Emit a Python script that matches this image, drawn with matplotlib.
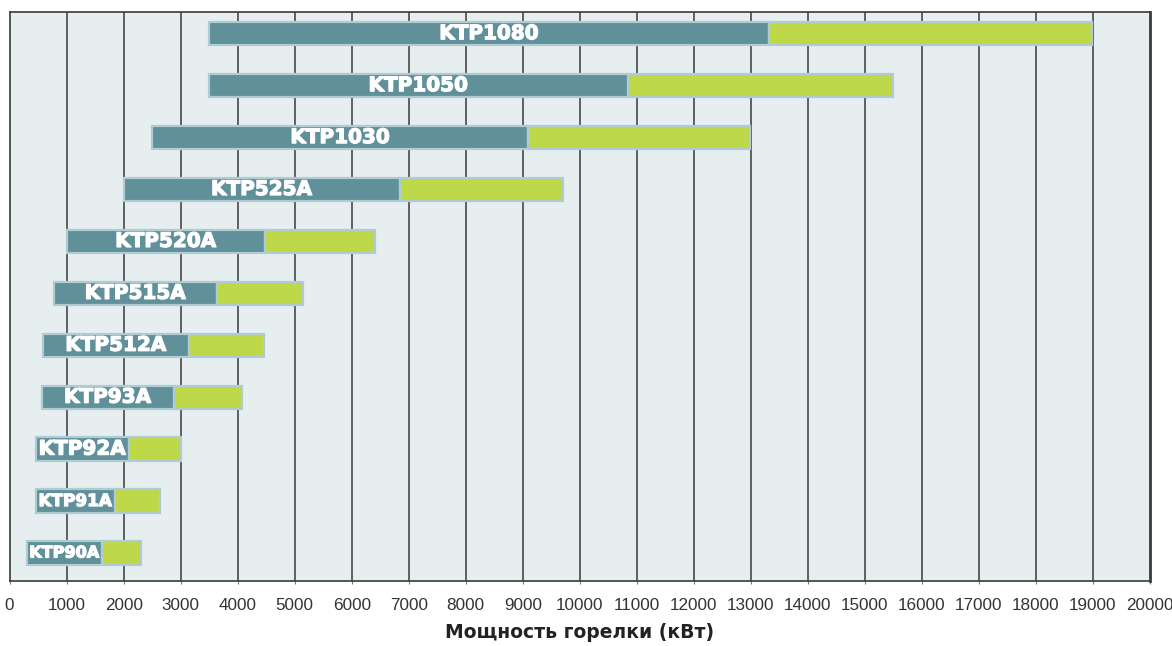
import matplotlib
matplotlib.use("Agg")
import matplotlib.pyplot as plt
import matplotlib.patheffects as pe
import numpy as np

models = ["KTP90A", "KTP91A", "KTP92A", "KTP93A", "KTP512A", "KTP515A",
          "KTP520A", "KTP525A", "KTP1030", "KTP1050", "KTP1080"]
p_min = [300, 460, 460, 560, 590, 770, 1000, 2000, 2500, 3500, 3500]
p_mid = [1620, 1840, 2090, 2880, 3140, 3640, 4480, 6840, 9100, 10840, 13320]
p_max = [2300, 2640, 3010, 4080, 4470, 5150, 6400, 9700, 12980, 15500, 18980]
xticks = list(range(0, 20001, 1000))
xlabel = "Мощность горелки (кВт)"

TEAL = "#60909a"
GREEN = "#bfd849"
EDGE = "#b0ccd3"
BG = "#e6eef0"
GRID = "#3a3a3a"

fig = plt.figure(figsize=(11.72, 6.46), dpi=100)
ax = fig.add_axes([0.0082, 0.1006, 0.9730, 0.8801])
ax.set_facecolor(BG)
ax.set_xlim(0, 20000)
ax.set_ylim(-0.54, 10.41)

for x in xticks[1:-1]:
    ax.axvline(x, color=GRID, lw=1.1, zorder=1)

y = np.arange(len(models))
h = 0.45
start = np.array(p_min)
mid = np.array(p_mid)
end = np.array(p_max)
ax.barh(y, mid - start, left=start, height=h, color=TEAL, edgecolor=EDGE,
        linewidth=1.6, zorder=3)
ax.barh(y, end - mid, left=mid, height=h, color=GREEN, edgecolor=EDGE,
        linewidth=1.6, zorder=3)

fig.canvas.draw()
renderer = fig.canvas.get_renderer()
FS = 14.4
for yi, name, s, m in zip(y, models, start, mid):
    cx = (s + m) / 2
    t = ax.text(cx, yi, name, ha="center", va="center", color="white",
                fontsize=FS, fontweight="bold", family="DejaVu Sans", zorder=5,
                path_effects=[pe.withStroke(linewidth=0.9, foreground="white")])
    bb = t.get_window_extent(renderer)
    x0 = ax.transData.transform((s, 0))[0]
    x1 = ax.transData.transform((m, 0))[0]
    avail = (x1 - x0) - 5
    if bb.width > avail:
        t.set_fontsize(FS * avail / bb.width)

for side in ["left", "top", "bottom"]:
    ax.spines[side].set_color(GRID)
    ax.spines[side].set_linewidth(1.2)
ax.spines["right"].set_color(GRID)
ax.spines["right"].set_linewidth(2.0)

ax.set_yticks([])
ax.set_xticks(xticks)
ax.set_xticklabels([str(v) for v in xticks], fontsize=12.3,
                   family="Liberation Sans", color="#333333")
ax.tick_params(axis="x", length=2.5, width=0.8, color="#777777", pad=10)

fig.text(0.4946, 1 - 633 / 646, xlabel, ha="center", va="center", fontsize=13.5,
         fontweight="bold", family="DejaVu Sans", color="#222222")

fig.savefig("out.png", dpi=100, facecolor="white")
